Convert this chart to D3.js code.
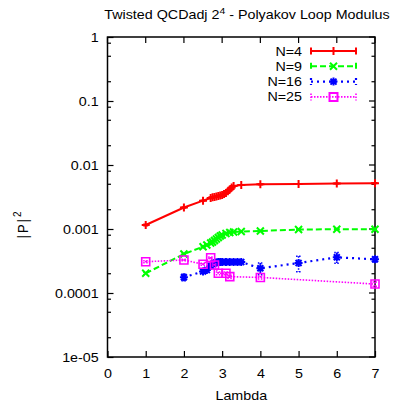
<!DOCTYPE html>
<html>
<head>
<meta charset="utf-8">
<script src="https://cdn.jsdelivr.net/npm/d3@7"></script>
<style>
  body { margin: 0; background: #fff; }
  text { font-family: "Liberation Sans", Arial, sans-serif; font-size: 13px; fill: #000; }
</style>
</head>
<body>
<div id="chart"></div>
<script>
// N=4
const lambdaN4 = [1, 2, 2.5, 2.7, 2.75, 2.8, 2.85, 2.9, 2.95, 3.0, 3.05, 3.1, 3.15, 3.2, 3.25, 3.3, 3.5, 4, 5, 6, 7];
const polyN4 = [0.001155, 0.00217, 0.00277, 0.00305, 0.00314, 0.00316, 0.00322, 0.00328, 0.00334, 0.0034, 0.00353, 0.00365, 0.0039, 0.00414, 0.00445, 0.0047, 0.00487, 0.00499, 0.00505, 0.00514, 0.0052];
const errN4 = [0.00003, 0.00004, 0.00004, 0.00005, 0.00005, 0.00005, 0.00005, 0.00005, 0.00005, 0.00005, 0.00005, 0.00005, 0.00006, 0.00006, 0.00006, 0.00006, 0.00006, 0.00006, 0.00006, 0.00006, 0.00006];
// N=9
const lambdaN9 = [1, 2, 2.5, 2.6, 2.7, 2.75, 2.8, 2.85, 2.9, 2.95, 3.0, 3.1, 3.2, 3.3, 3.5, 4, 5, 6, 7];
const polyN9 = [0.000203, 0.000407, 0.000528, 0.000562, 0.000604, 0.000626, 0.000661, 0.000698, 0.000737, 0.000777, 0.000806, 0.000851, 0.000882, 0.000898, 0.000914, 0.000931, 0.000982, 0.00099, 0.00099];
const errN9 = [0.000008, 0.00001, 0.00001, 0.00001, 0.00001, 0.00001, 0.00001, 0.00001, 0.00001, 0.00001, 0.00001, 0.00001, 0.00001, 0.00001, 0.00001, 0.00002, 0.00002, 0.00002, 0.00002];
// N=16
const lambdaN16 = [2, 2.5, 2.6, 2.7, 2.75, 2.8, 2.85, 2.9, 2.95, 3.0, 3.1, 3.2, 3.3, 3.4, 3.5, 4, 5, 6, 7];
const polyN16 = [0.000176, 0.000217, 0.000229, 0.000264, 0.000284, 0.000294, 0.0003, 0.000305, 0.000305, 0.000305, 0.000305, 0.000305, 0.000305, 0.000305, 0.000305, 0.000243, 0.000294, 0.000361, 0.000336];
const errN16 = [0.00002, 0.00001, 0.00001, 0.00001, 0.00001, 0.00001, 0.00001, 0.00001, 0.00001, 0.00001, 0.00001, 0.00001, 0.00001, 0.00001, 0.00001, 0.00005, 0.00008, 0.00007, 0.00003];
// N=25
const lambdaN25 = [1, 2, 2.5, 2.7, 2.8, 2.9, 3.1, 3.2, 4, 7];
const polyN25 = [0.000308, 0.000328, 0.000281, 0.000356, 0.000274, 0.000203, 0.000203, 0.00018, 0.000175, 0.000138];
const errN25 = [0.00001, 0.00001, 0.00001, 0.00001, 0.00001, 0.00001, 0.00001, 0.00001, 0.00001, 0.00001];

const seriesNames = ['N=4', 'N=9', 'N=16', 'N=25'];
const xTicks = [0, 1, 2, 3, 4, 5, 6, 7];
const yTicks = [1, 0.1, 0.01, 0.001, 0.0001, 0.00001];
const yTickLabels = ['1', '0.1', '0.01', '0.001', '0.0001', '1e-05'];
const yMinorMult = [2, 5, 8];

const width = 397, height = 404;
const margin = { top: 37, bottom: 47, left: 107.5, right: 22 };
const stretch = 'scale(1.1,1)';

const svg = d3.select('#chart').append('svg')
    .attr('width', width)
    .attr('height', height);

const x = d3.scaleLinear().domain([0, 7]).range([margin.left, width - margin.right]);
const y = d3.scaleLog().domain([1e-5, 1]).range([height - margin.bottom, margin.top]);

const styles = [
    { color: '#ff0000', dash: null, lw: 2, marker: 'plus' },
    { color: '#00ff00', dash: '6,3', lw: 2, marker: 'cross' },
    { color: '#0000ff', dash: '2,4', lw: 2.2, marker: 'star' },
    { color: '#ff00ff', dash: '1.5,1.5', lw: 1.6, marker: 'square' }
];

const allX = [lambdaN4, lambdaN9, lambdaN16, lambdaN25];
const allY = [polyN4, polyN9, polyN16, polyN25];
const allE = [errN4, errN9, errN16, errN25];

const series = seriesNames.map((name, i) => ({
    name,
    style: styles[i],
    points: allX[i].map((lx, j) => ({ x: lx, y: allY[i][j], e: allE[i][j] }))
}));

const markerPath = {
    plus: 'M-4,0H4M0,-4V4',
    cross: 'M-3.5,-3.5L3.5,3.5M-3.5,3.5L3.5,-3.5',
    star: 'M-4,0H4M0,-4V4M-3,-3L3,3M-3,3L3,-3',
    square: 'M-4,-4H4V4H-4Z'
};

// ticks (inward, on all four sides)
const x0 = margin.left, x1 = width - margin.right;
const y0 = height - margin.bottom, y1 = margin.top;

const xAxis = d3.axisBottom(x).tickValues(xTicks).tickFormat(d3.format('d'))
    .tickSizeInner(-6).tickSizeOuter(0).tickPadding(12);
const gx = svg.append('g').attr('transform', `translate(0,${y0})`).call(xAxis);
gx.select('.domain').remove();

const yAxis = d3.axisLeft(y).tickValues(yTicks).tickSizeInner(-6).tickSizeOuter(0).tickPadding(8)
    .tickFormat((d, i) => yTickLabels[i]);
const gy = svg.append('g').attr('transform', `translate(${x0},0)`).call(yAxis);
gy.select('.domain').remove();

svg.selectAll('.tick text').attr('font-size', null).attr('font-family', null)
    .attr('transform', stretch);
svg.selectAll('.tick line').attr('stroke', '#000').attr('stroke-width', 1.2);

const minor = [];
yTicks.slice(1).forEach(t => yMinorMult.forEach(m => minor.push(t * m)));

const tickG = svg.append('g').attr('stroke', '#000').attr('stroke-width', 1.2);
tickG.selectAll('.ymin').data(minor).join('line')
    .attr('x1', x0).attr('x2', x0 + 3.5)
    .attr('y1', d => y(d)).attr('y2', d => y(d));
tickG.selectAll('.ymin-r').data(minor).join('line')
    .attr('x1', x1).attr('x2', x1 - 3.5)
    .attr('y1', d => y(d)).attr('y2', d => y(d));
tickG.selectAll('.ymaj-r').data(yTicks).join('line')
    .attr('x1', x1).attr('x2', x1 - 6)
    .attr('y1', d => y(d)).attr('y2', d => y(d));
tickG.selectAll('.xmaj-t').data(xTicks).join('line')
    .attr('x1', d => x(d)).attr('x2', d => x(d))
    .attr('y1', y1).attr('y2', y1 + 6);

// frame
svg.append('rect')
    .attr('x', x0).attr('y', y1)
    .attr('width', x1 - x0).attr('height', y0 - y1)
    .attr('fill', 'none').attr('stroke', '#000').attr('stroke-width', 1.5);

// data
const line = d3.line().x(d => x(d.x)).y(d => y(d.y));

series.forEach(s => {
    const g = svg.append('g');
    const st = s.style;
    g.append('path')
        .datum(s.points)
        .attr('d', line)
        .attr('fill', 'none')
        .attr('stroke', st.color)
        .attr('stroke-width', st.lw)
        .attr('stroke-dasharray', st.dash);
    g.selectAll('.err').data(s.points).join('path')
        .attr('d', d => {
            const ya = y(d.y + d.e), yb = y(Math.max(d.y - d.e, 1e-6));
            const cx = x(d.x);
            return `M${cx},${ya}V${yb}M${cx - 2.5},${ya}H${cx + 2.5}M${cx - 2.5},${yb}H${cx + 2.5}`;
        })
        .attr('fill', 'none')
        .attr('stroke', st.color)
        .attr('stroke-width', 1.5)
        .attr('stroke-dasharray', st.dash ? '1.5,1.5' : null);
    g.selectAll('.pt').data(s.points).join('path')
        .attr('transform', d => `translate(${x(d.x)},${y(d.y)})`)
        .attr('d', markerPath[st.marker])
        .attr('fill', 'none')
        .attr('stroke', st.color)
        .attr('stroke-width', st.marker === 'square' ? 1.6 : 2);
});

// legend
const legend = svg.append('g');
series.forEach((s, i) => {
    const ly = 51 + i * 15.3;
    const st = s.style;
    legend.append('text')
        .attr('transform', `translate(302,${ly}) ${stretch}`)
        .attr('dy', '0.35em')
        .attr('text-anchor', 'end')
        .text(s.name);
    legend.append('path')
        .attr('d', `M311,${ly}H356M311,${ly - 3.5}V${ly + 3.5}M356,${ly - 3.5}V${ly + 3.5}`)
        .attr('fill', 'none')
        .attr('stroke', st.color)
        .attr('stroke-width', st.lw)
        .attr('stroke-dasharray', st.dash);
    legend.append('path')
        .attr('transform', `translate(333.5,${ly})`)
        .attr('d', markerPath[st.marker])
        .attr('fill', 'none')
        .attr('stroke', st.color)
        .attr('stroke-width', 2);
});

// title and axis labels
const title = svg.append('text')
    .attr('transform', `translate(247,19) ${stretch}`)
    .attr('text-anchor', 'middle');
title.append('tspan').text('Twisted QCDadj 2');
title.append('tspan').attr('dy', -5).attr('font-size', '9.5px').text('4');
title.append('tspan').attr('dy', 5).text(' - Polyakov Loop Modulus');

svg.append('text')
    .attr('transform', `translate(${(x0 + x1) / 2},400) ${stretch}`)
    .attr('text-anchor', 'middle')
    .text('Lambda');

const ylab = svg.append('text')
    .attr('transform', `translate(28,224) scale(1.1,1) rotate(-90)`)
    .attr('text-anchor', 'middle')
    .attr('font-size', '15px')
    .attr('letter-spacing', '2px');
ylab.append('tspan').text('|P|');
ylab.append('tspan').attr('dy', -6).attr('font-size', '10px').text('2');
</script>
</body>
</html>
